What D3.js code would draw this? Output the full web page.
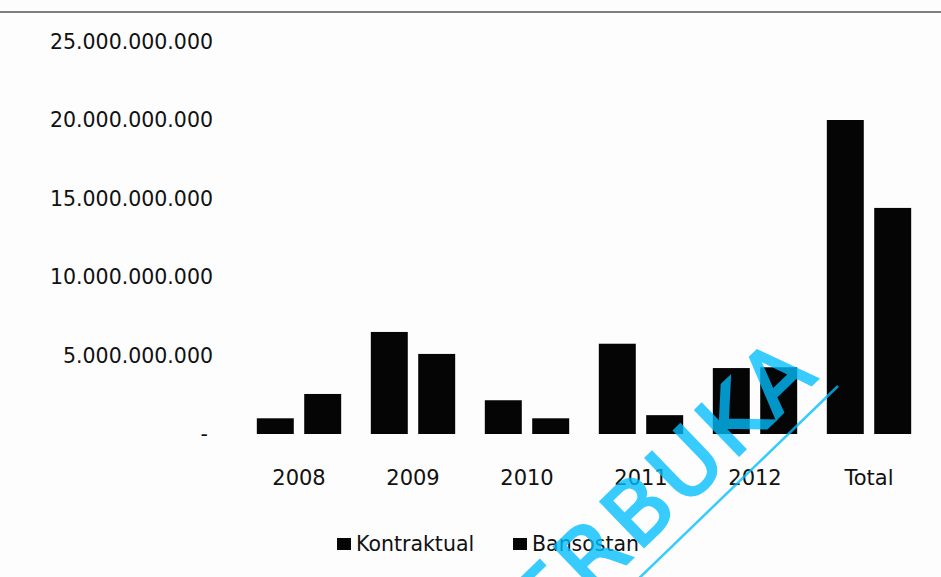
<!DOCTYPE html>
<html>
<head>
<meta charset="utf-8">
<script src="https://cdn.jsdelivr.net/npm/d3@7"></script>
<style>
  body { margin: 0; background: #fdfdfd; }
  text { font-family: "DejaVu Sans", sans-serif; fill: #111; }
</style>
</head>
<body>
<div id="chart"></div>
<script>
// data
const categories = ["2008", "2009", "2010", "2011", "2012", "Total"];
const kontraktual = [1.0e9, 6.5e9, 2.15e9, 5.75e9, 4.2e9, 20.0e9];
const bansostan = [2.55e9, 5.1e9, 1.0e9, 1.2e9, 4.25e9, 14.4e9];
const seriesNames = ["Kontraktual", "Bansostan"];
const yTicks = [0, 5e9, 10e9, 15e9, 20e9, 25e9];

// set the dimensions and margins of the graph
var margin = {top: 41.5, right: 15, bottom: 143, left: 242},
    width = 941 - margin.left - margin.right,
    height = 577 - margin.top - margin.bottom;

const root = d3.select("#chart")
  .append("svg")
    .attr("width", 941)
    .attr("height", 577);

// border line at the top of the scan
root.append("line")
  .attr("x1", 0).attr("x2", 941)
  .attr("y1", 12).attr("y2", 12)
  .attr("stroke", "#555")
  .attr("stroke-width", 1.5);

const svg = root.append("g")
  .attr("transform", `translate(${margin.left}, ${margin.top})`);

const rows = categories.map((c, i) => ({cat: c, Kontraktual: kontraktual[i], Bansostan: bansostan[i]}));

// scales
const x0 = d3.scaleBand()
  .domain(categories)
  .range([0, width])
  .paddingInner(0.26)
  .paddingOuter(0.13);

const x1 = d3.scaleBand()
  .domain(seriesNames)
  .range([0, x0.bandwidth()])
  .paddingInner(0.22);

const y = d3.scaleLinear()
  .domain([0, 25e9])
  .range([height, 0]);

// y labels, dots as thousands separator, zero shown as "-"
const fmt = d => d === 0 ? "-" : d3.format(",")(d).replace(/,/g, ".");
svg.selectAll(".ylab")
  .data(yTicks)
  .enter()
  .append("text")
    .attr("class", "ylab")
    .attr("x", d => d === 0 ? -34 : -29)
    .attr("y", d => y(d))
    .attr("dy", "0.36em")
    .attr("text-anchor", "end")
    .style("font-size", "20.5px")
    .text(fmt);

// bars
const groups = svg.selectAll(".grp")
  .data(rows)
  .enter()
  .append("g")
    .attr("transform", d => `translate(${x0(d.cat)}, 0)`);

groups.selectAll("rect")
  .data(d => seriesNames.map(k => ({key: k, value: d[k]})))
  .enter()
  .append("rect")
    .attr("x", d => x1(d.key))
    .attr("y", d => y(d.value))
    .attr("width", x1.bandwidth())
    .attr("height", d => height - y(d.value))
    .attr("fill", "#050505");

// x labels
svg.selectAll(".xlab")
  .data(categories)
  .enter()
  .append("text")
    .attr("class", "xlab")
    .attr("x", d => x0(d) + x0.bandwidth() / 2)
    .attr("y", height + 43)
    .attr("dy", "0.36em")
    .attr("text-anchor", "middle")
    .style("font-size", "21px")
    .text(d => d);

// legend
const legendX = [337, 513];
const legend = root.selectAll(".leg")
  .data(seriesNames)
  .enter()
  .append("g")
    .attr("transform", (d, i) => `translate(${legendX[i]}, 538)`);
legend.append("rect")
  .attr("width", 14)
  .attr("height", 12)
  .attr("fill", "#050505");
legend.append("text")
  .attr("x", 19)
  .attr("y", 6)
  .attr("dy", "0.36em")
  .style("font-size", "20.5px")
  .text(d => d);

// watermark
const wm = root.append("g").attr("opacity", 0.78);
wm.append("text")
  .attr("transform", "translate(822, 375) rotate(-44)")
  .attr("text-anchor", "end")
  .style("font-size", "86px")
  .style("letter-spacing", "5px")
  .style("fill", "rgb(0,190,255)")
  .style("stroke", "rgb(0,190,255)")
  .style("stroke-width", 2.5)
  .text("TERBUKA");
wm.append("line")
  .attr("x1", 838).attr("y1", 386)
  .attr("x2", 600).attr("y2", 616)
  .attr("stroke", "rgb(0,190,255)")
  .attr("stroke-width", 2.5);
</script>
</body>
</html>
